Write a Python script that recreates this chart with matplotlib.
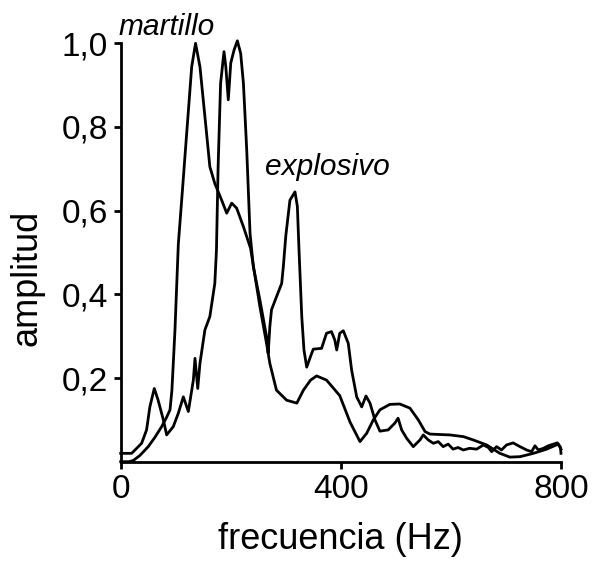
import matplotlib
matplotlib.use("Agg")
import matplotlib.pyplot as plt

plt.rcParams['font.family'] = ['Liberation Sans', 'DejaVu Sans']

# martillo spectrum (frequency Hz, amplitude)
martillo_hz = [0, 15, 23, 35, 50, 62, 74.5, 83, 89.6, 93, 95.6, 98.6, 104.7, 110.8,
               119.9, 129, 136, 144, 153, 162, 171, 183.5, 192.6, 201.7, 210.7, 222.9,
               236, 253, 265, 271, 283, 301.5, 320, 332, 345, 356, 374, 398, 416.6,
               434.8, 447, 459, 471, 489, 507, 525.6, 540.7, 553, 562, 598, 622.5,
               640.6, 665, 689, 707, 725.5, 750, 774, 795, 800]
martillo_amp = [0.0, 0.0, 0.003, 0.015, 0.036, 0.058, 0.084, 0.105, 0.124, 0.17, 0.236,
                0.315, 0.52, 0.625, 0.785, 0.944, 1.0, 0.944, 0.825, 0.705, 0.665, 0.625,
                0.594, 0.618, 0.606, 0.562, 0.51, 0.37, 0.283, 0.235, 0.171, 0.147, 0.14,
                0.171, 0.195, 0.205, 0.195, 0.158, 0.095, 0.048, 0.068, 0.1, 0.124, 0.137,
                0.138, 0.128, 0.1, 0.072, 0.066, 0.064, 0.06, 0.052, 0.04, 0.02, 0.011,
                0.012, 0.02, 0.03, 0.042, 0.03]

# explosivo spectrum (frequency Hz, amplitude)
explosivo_hz = [0, 20, 38, 47, 53, 61, 68, 77.5, 83.5, 95.6, 104.7, 113.8, 122.9, 132,
                135, 140, 144, 153, 162, 171, 174, 177, 181.5, 187.7, 191, 195.5, 200,
                206, 212, 218, 223, 229, 235, 241, 253, 265, 268, 271, 274, 283, 292.5,
                295.5, 300, 307.5, 316.7, 321, 324, 329, 333, 338, 347, 350, 365, 374,
                383, 389, 392.5, 398, 404.5, 413.5, 419.6, 428.8, 437.9, 445.7, 453,
                462, 471, 486, 498, 504, 510.5, 519.6, 531.6, 543.8, 549.8, 558.9, 568,
                577, 586, 595, 604, 613, 622.5, 634, 646.8, 659, 668, 674, 683, 692,
                701, 713, 725.5, 737.6, 746.7, 752.7, 759, 768, 777, 786, 793.5, 799, 800]
explosivo_amp = [0.02, 0.02, 0.044, 0.076, 0.131, 0.175, 0.147, 0.1, 0.064, 0.084, 0.116,
                 0.155, 0.12, 0.195, 0.247, 0.175, 0.235, 0.315, 0.347, 0.426, 0.506,
                 0.705, 0.904, 0.98, 0.944, 0.865, 0.953, 0.984, 1.006, 0.976, 0.904,
                 0.745, 0.546, 0.466, 0.386, 0.299, 0.259, 0.323, 0.363, 0.394, 0.426,
                 0.466, 0.54, 0.625, 0.645, 0.61, 0.506, 0.347, 0.267, 0.226, 0.259,
                 0.269, 0.271, 0.307, 0.311, 0.291, 0.267, 0.307, 0.313, 0.283, 0.219,
                 0.155, 0.131, 0.157, 0.14, 0.1, 0.073, 0.076, 0.092, 0.104, 0.076, 0.056,
                 0.036, 0.052, 0.064, 0.052, 0.044, 0.048, 0.036, 0.042, 0.03, 0.034,
                 0.028, 0.032, 0.03, 0.04, 0.034, 0.024, 0.036, 0.028, 0.04, 0.045,
                 0.036, 0.028, 0.024, 0.038, 0.028, 0.032, 0.038, 0.042, 0.045, 0.035,
                 0.02]

x_ticks = [0, 400, 800]
x_tick_labels = ["0", "400", "800"]
y_ticks = [0.2, 0.4, 0.6, 0.8, 1.0]
y_tick_labels = ["0,2", "0,4", "0,6", "0,8", "1,0"]

fig = plt.figure(figsize=(5.94, 5.61), dpi=100)
ax = fig.add_axes([0.2032, 0.177, 0.7412, 0.7458])

ax.plot(martillo_hz, martillo_amp, color='black', lw=2.0, clip_on=False)
ax.plot(explosivo_hz, explosivo_amp, color='black', lw=2.0, clip_on=False)

ax.set_xlim(0, 800)
ax.set_ylim(0, 1.0)
ax.set_xticks(x_ticks)
ax.set_xticklabels(x_tick_labels)
ax.set_yticks(y_ticks)
ax.set_yticklabels(y_tick_labels)

for s in ['top', 'right']:
    ax.spines[s].set_visible(False)
for s in ['left', 'bottom']:
    ax.spines[s].set_linewidth(2.0)

ax.tick_params(axis='both', direction='out', length=5, width=2.0,
               labelsize=24, pad=4)

ax.set_xlabel("frecuencia (Hz)", fontsize=26, labelpad=12)
ax.set_ylabel("amplitud", fontsize=26)
ax.yaxis.set_label_coords(-0.173, 0.44)

ax.text(-4.4, 1.02, "martillo", fontsize=21.5, style='italic',
        ha='left', va='baseline')
ax.text(262, 0.685, "explosivo", fontsize=21.5, style='italic',
        ha='left', va='baseline')

fig.savefig("out.png", dpi=100)
